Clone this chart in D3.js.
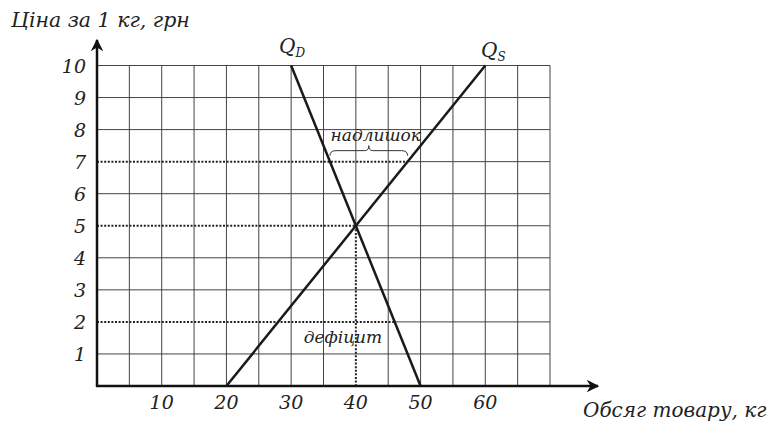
<!DOCTYPE html>
<html>
<head>
<meta charset="utf-8">
<script src="https://cdn.jsdelivr.net/npm/d3@7"></script>
</head>
<body style="margin:0; background:#fff">
<div id="chart"></div>
<script>
// chart data
const xTicks = [10, 20, 30, 40, 50, 60];
const yTicks = [1, 2, 3, 4, 5, 6, 7, 8, 9, 10];
const demand = [{q: 30, p: 10}, {q: 50, p: 0}];   // Q_D
const supply = [{q: 20, p: 0}, {q: 60, p: 10}];   // Q_S
const guides = [
    {p: 7, q: 48},
    {p: 5, q: 40},
    {p: 2, q: 46}
];
const equilibrium = {q: 40, p: 5};
const surplus = {p: 7, q0: 36, q1: 48, label: "надлишок"};
const shortage = {p: 1.5, q: 38, label: "дефіцит"};

const width = 778, height = 426;
const FONT = "DejaVu Serif";

const svg = d3.select("#chart").append("svg")
    .attr("width", width)
    .attr("height", height);

// italic serif text helper
function label(sel) {
    return sel.attr("font-family", FONT)
        .attr("font-style", "italic")
        .attr("fill", "#222");
}

// scales
const x = d3.scaleLinear().domain([0, 70]).range([97, 550]);
const y = d3.scaleLinear().domain([0, 10]).range([386, 65.5]);

// grid
const grid = svg.append("g").attr("stroke", "#444").attr("stroke-width", 1);
grid.selectAll(".vline")
    .data(d3.range(5, 75, 5).filter(d => d !== 40))
    .enter().append("line")
    .attr("x1", d => x(d)).attr("x2", d => x(d))
    .attr("y1", y(0)).attr("y2", y(10));
grid.selectAll(".hline")
    .data(yTicks.filter(d => d !== 5 && d !== 7 && d !== 2))
    .enter().append("line")
    .attr("x1", x(0)).attr("x2", x(70))
    .attr("y1", d => y(d)).attr("y2", d => y(d));
// solid remainder of the rows that carry dotted guides
grid.selectAll(".hpart")
    .data(guides)
    .enter().append("line")
    .attr("x1", d => x(d.q)).attr("x2", x(70))
    .attr("y1", d => y(d.p)).attr("y2", d => y(d.p));
grid.append("line")
    .attr("x1", x(40)).attr("x2", x(40))
    .attr("y1", y(10)).attr("y2", y(5));

// dotted guide lines
const dots = svg.append("g")
    .attr("stroke", "#222")
    .attr("stroke-width", 2)
    .attr("stroke-dasharray", "2,1.6");
dots.selectAll("line")
    .data(guides)
    .enter().append("line")
    .attr("x1", x(0)).attr("x2", d => x(d.q))
    .attr("y1", d => y(d.p)).attr("y2", d => y(d.p));
dots.append("line")
    .attr("x1", x(equilibrium.q)).attr("x2", x(equilibrium.q))
    .attr("y1", y(equilibrium.p)).attr("y2", y(0));

// axes with arrows
const defs = svg.append("defs");
defs.append("marker")
    .attr("id", "arrow")
    .attr("viewBox", "0 0 10 10")
    .attr("refX", 9).attr("refY", 5)
    .attr("markerWidth", 5).attr("markerHeight", 5)
    .attr("markerUnits", "strokeWidth")
    .attr("orient", "auto")
    .append("path")
    .attr("d", "M0,0 L10,5 L0,10 L3,5 Z")
    .attr("fill", "#111");

svg.append("line")
    .attr("x1", x(0)).attr("x2", x(0))
    .attr("y1", y(0) + 1).attr("y2", 40)
    .attr("stroke", "#111").attr("stroke-width", 2.5)
    .attr("marker-end", "url(#arrow)");
svg.append("line")
    .attr("x1", x(0) - 1).attr("x2", 598)
    .attr("y1", y(0)).attr("y2", y(0))
    .attr("stroke", "#111").attr("stroke-width", 2.5)
    .attr("marker-end", "url(#arrow)");

// demand and supply lines
const line = d3.line().x(d => x(d.q)).y(d => y(d.p));
svg.selectAll(".curve")
    .data([demand, supply])
    .enter().append("path")
    .attr("d", line)
    .attr("fill", "none")
    .attr("stroke", "#1a1a1a")
    .attr("stroke-width", 2.5);

// tick labels
svg.selectAll(".ylab")
    .data(yTicks)
    .enter().append("text")
    .call(label)
    .attr("x", 86)
    .attr("y", d => y(d) + 7)
    .attr("text-anchor", "end")
    .attr("font-size", 19)
    .text(d => d);
svg.selectAll(".xlab")
    .data(xTicks)
    .enter().append("text")
    .call(label)
    .attr("x", d => x(d))
    .attr("y", 409)
    .attr("text-anchor", "middle")
    .attr("font-size", 19)
    .text(d => d);

// axis titles
svg.append("text").call(label)
    .attr("x", 11).attr("y", 27)
    .attr("font-size", 20.5)
    .text("Ціна за 1 кг, грн");
svg.append("text").call(label)
    .attr("x", 583).attr("y", 417)
    .attr("font-size", 20)
    .text("Обсяг товару, кг");

// curve labels
const qd = svg.append("text").call(label).attr("x", 279).attr("y", 53).attr("font-size", 20);
qd.append("tspan").text("Q");
qd.append("tspan").attr("font-size", 12).attr("dy", 4).text("D");
const qs = svg.append("text").call(label).attr("x", 481).attr("y", 57).attr("font-size", 20);
qs.append("tspan").text("Q");
qs.append("tspan").attr("font-size", 12).attr("dy", 4).text("S");

// surplus brace
const bx0 = x(surplus.q0), bx1 = x(surplus.q1), bm = (bx0 + bx1) / 2;
const by = y(surplus.p) - 6;
svg.append("path")
    .attr("d", `M${bx0},${by} Q${bx0},${by - 5} ${bx0 + 6},${by - 5} L${bm - 4},${by - 5} Q${bm},${by - 5} ${bm},${by - 10}`
        + ` Q${bm},${by - 5} ${bm + 4},${by - 5} L${bx1 - 6},${by - 5} Q${bx1},${by - 5} ${bx1},${by}`)
    .attr("fill", "none")
    .attr("stroke", "#333")
    .attr("stroke-width", 1);
svg.append("text").call(label)
    .attr("x", bm + 7).attr("y", 141)
    .attr("text-anchor", "middle")
    .attr("font-size", 17)
    .text(surplus.label);

svg.append("text").call(label)
    .attr("x", x(shortage.q)).attr("y", 343)
    .attr("text-anchor", "middle")
    .attr("font-size", 17)
    .text(shortage.label);
</script>
</body>
</html>
